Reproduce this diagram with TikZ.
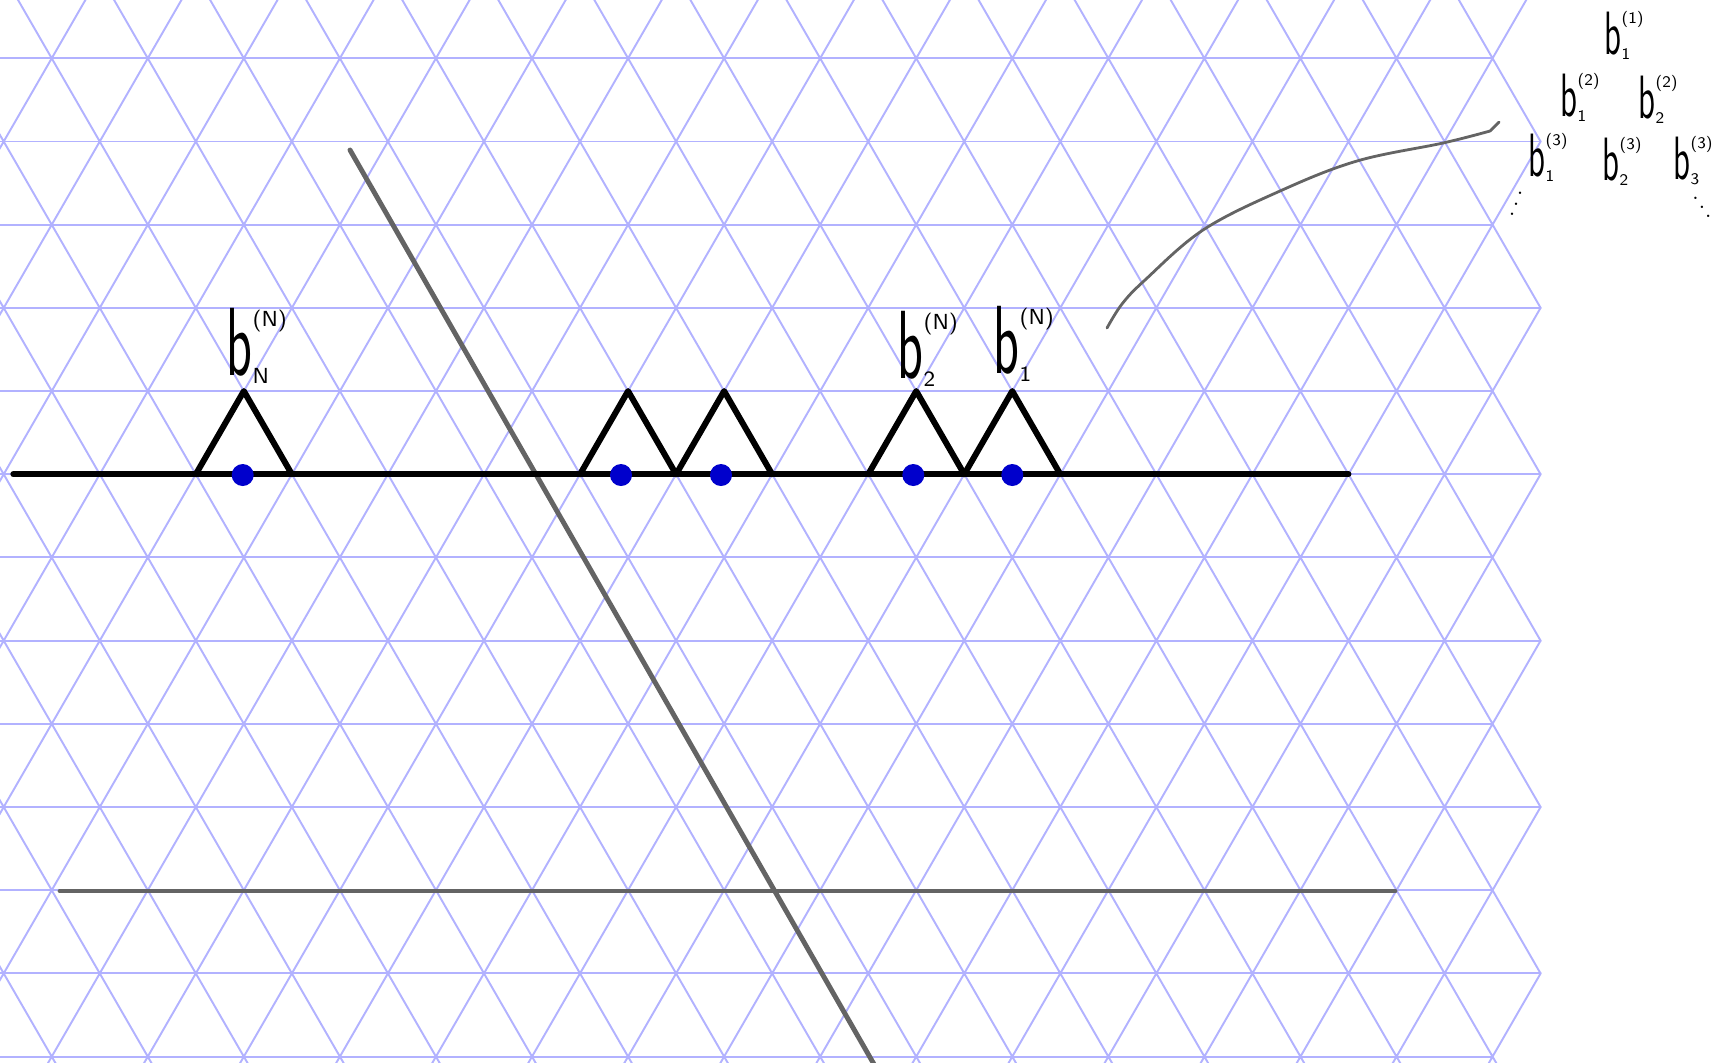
\documentclass[tikz,border=0pt]{standalone}
\usepackage{graphicx}

\definecolor{latblue}{RGB}{178,178,255}
\definecolor{dotblue}{RGB}{0,0,204}
\definecolor{pencil}{RGB}{100,100,100}

% b with a lower index and an upper index in brackets
\newcommand{\bl}[2]{\scalebox{0.8}[1.45]{b}%
  \rlap{\raisebox{-0.13em}{\idxsize #1}}\raisebox{0.72em}{\idxsize(#2)}}

\begin{document}
\begin{tikzpicture}[x=0.01cm, y=-0.01cm, line cap=round, line join=round,
  on lattice/.style={shift={(3.7,58.3)}, x=0.48cm, y=-0.8314cm},
  lattice/.style={draw=latblue, line width=0.55pt},
  bump/.style={draw=black, line width=1.7pt},
  pencil line/.style={draw=pencil, line width=1.4pt},
  spot/.style={fill=dotblue},
  bigb/.style={inner sep=0pt, anchor=base west, font=\fontsize{19}{19}\selectfont\sffamily\def\idxsize{\fontsize{6.2}{6.2}\selectfont}},
  smallb/.style={inner sep=0pt, anchor=base west, font=\fontsize{12}{12}\selectfont\sffamily\def\idxsize{\fontsize{4.6}{4.6}\selectfont}},
  dots/.style={inner sep=0pt, scale=0.65}]
  \useasboundingbox (0,0) rectangle (1727,1062);
  % Triangular lattice, cut off by the page and by a zigzag on the right.
  \begin{scope}
    \clip (0,0) rectangle (1727,1062);
    \begin{scope}[on lattice]
      \foreach \k in {-1,...,13}
        \draw[lattice] (-2,\k) -- ({31+mod(\k+2,2)},\k);
      \foreach \k in {-1,...,12}
        \draw[lattice] (-1,{\k+mod(\k+2,2)})
          \foreach \i [evaluate=\i as \r using {\k+mod(\i+\k+3,2)}] in {0,...,32} { -- (\i,\r) };
    \end{scope}
  \end{scope}
  % Pencil strokes.
  \draw[pencil line] (350,150) -- (875,1066);
  \draw[pencil line] (60,891) -- (1395,891);
  \draw[pencil line, line width=0.8pt] plot[smooth, tension=0.6] coordinates
    {(1107,328) (1122,304) (1145,280) (1203,230) (1280,191) (1357,161) (1443,143) (1490,131)} -- (1499,122);
  % Baseline with the bumps.
  \begin{scope}[on lattice]
    \draw[bump] (0.2,5) -- (28,5);
    \foreach \p in {5,13,15,19,21}
      \draw[bump] ({\p-1},5) -- (\p,4) -- ({\p+1},5);
  \end{scope}
  \foreach \d in {242.7,621,721,913.3,1012.3}
    \fill[spot] (\d,475) circle[radius=0.11cm];
  % Labels on the bumps.
  \node[bigb] (bN) at (226,375) {\bl{N}{N}};
  \node[bigb] (b2N) at (897,378) {\bl{2}{N}};
  \node[bigb] (b1N) at (993,373) {\bl{1}{N}};
  % The little tree in the corner.
  \node[smallb] (b11) at (1604,54) {\bl{1}{1}};
  \node[smallb] (b12) at (1560,116) {\bl{1}{2}};
  \node[smallb] (b22) at (1638,118) {\bl{2}{2}};
  \node[smallb] (b13) at (1528,176) {\bl{1}{3}};
  \node[smallb] (b23) at (1602,180) {\bl{2}{3}};
  \node[smallb] (b33) at (1673,179) {\bl{3}{3}};
  \node[dots, rotate=-75] (dl) at (1523,202) {$\ddots$};
  \node[dots, rotate=-18] (dr) at (1704,201) {$\ddots$};
\end{tikzpicture}
\end{document}
